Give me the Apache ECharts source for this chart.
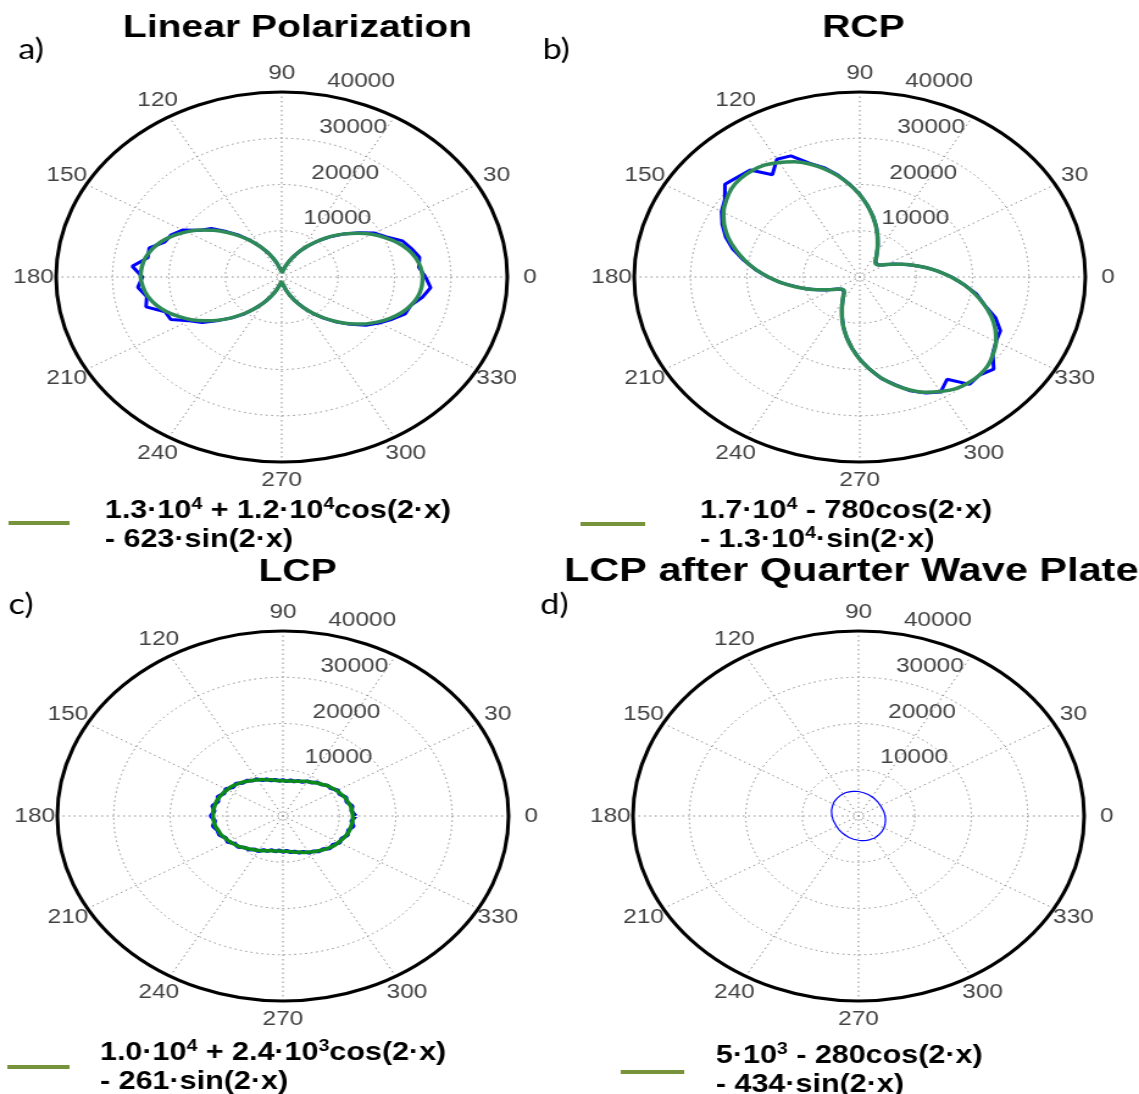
<!DOCTYPE html>
<html>
<head>
<meta charset="utf-8">
<script src="https://cdn.jsdelivr.net/npm/echarts@6/dist/echarts.min.js"></script>
<style>
  html, body { margin: 0; padding: 0; background: #fff; overflow: hidden; }
  /* the figure is laid out at its natural width, then widened to 1139px */
  #chart { width: 934px; height: 1094px; transform: scaleX(1.2195); transform-origin: 0 0; }
</style>
</head>
<body>
<div id="chart"></div>
<script>
// Sampling angles (degrees) shared by all measured and fitted curves
const angles = [0,5,10,15,20,25,30,35,40,45,50,55,60,65,70,75,80,85,90,95,100,105,110,115,120,125,130,135,140,145,150,155,160,165,170,175,180,185,190,195,200,205,210,215,220,225,230,235,240,245,250,255,260,265,270,275,280,285,290,295,300,305,310,315,320,325,330,335,340,345,350,355,360];

// Tick labels (the 60 degree label sits under the radius labels and is not printed)
const angleTicks = [0,30,90,120,150,180,210,240,270,300,330];
const radiusTicks = [10000,20000,30000,40000];

// a) Linear polarization: measured intensity and fit
const linearMeasured = [25500,24400,24800,23800,22800,20500,19000,16700,14500,12400,10300,8300,6500,4800,3400,2300,1500,1100,1000,1300,1900,2900,4200,5800,7600,9600,11800,13900,16300,17600,20300,21600,22100,24300,24100,26600,24700,25600,24300,24900,22000,21700,18900,17200,14600,12500,10500,8300,6500,4800,3400,2300,1500,1100,1000,1300,1900,2900,4200,5800,7600,9600,11600,13800,15900,18200,19900,21600,23300,23700,25300,26500,25500];
const linearFit = [25000,24700,24100,23100,21800,20200,18500,16500,14500,12400,10300,8300,6500,4800,3400,2300,1500,1100,1000,1300,1900,2900,4200,5800,7500,9500,11500,13600,15700,17700,19500,21200,22600,23700,24500,24900,25000,24700,24100,23100,21800,20200,18500,16500,14500,12400,10300,8300,6500,4800,3400,2300,1500,1100,1000,1300,1900,2900,4200,5800,7500,9500,11500,13600,15700,17700,19500,21200,22600,23700,24500,24900,25000];

// b) RCP
const rcpMeasured = [16300,14000,11900,9800,8000,6600,5300,4500,4100,4000,4300,5100,6100,7600,9300,11300,13400,15600,17900,20100,22400,24500,26200,28900,29400,27000,30200,30600,31200,29200,28300,26900,25300,23300,20900,18600,16300,14100,11700,9900,8000,6600,5300,4500,4100,4000,4300,5100,6100,7500,9200,11200,13300,15500,17800,20000,22300,24100,26200,27700,28700,27000,30300,30000,31000,28800,27900,27500,25600,22800,21000,18500,16300];
const rcpFit = [16200,14000,11800,9800,8000,6500,5400,4500,4100,4000,4300,5100,6100,7500,9200,11200,13300,15500,17800,20000,22200,24200,26000,27500,28600,29500,29900,30000,29700,28900,27900,26500,24800,22800,20700,18500,16200,14000,11800,9800,8000,6500,5400,4500,4100,4000,4300,5100,6100,7500,9200,11200,13300,15500,17800,20000,22200,24200,26000,27500,28600,29500,29900,30000,29700,28900,27900,26500,24800,22800,20700,18500,16200];

// c) LCP
const lcpMeasured = [12900,12200,12500,11700,11900,11100,11200,10400,10300,9600,9500,8800,8700,8100,8100,7700,7900,7500,7800,7600,8000,7900,8500,8500,9200,9300,10000,10100,10900,10800,11700,11500,12300,11900,12700,12200,12800,12100,12600,12000,12000,11200,11300,10400,10400,9600,9500,8800,8800,8100,8100,7600,7800,7400,7800,7500,8000,7900,8500,8500,9200,9300,10000,10100,10900,10800,11600,11500,12200,12000,12700,12200,12900];
const lcpFit = [12400,12300,12200,11900,11700,11300,11000,10600,10200,9700,9300,8900,8600,8300,8000,7800,7700,7600,7600,7700,7800,8100,8300,8700,9000,9400,9800,10300,10700,11100,11400,11700,12000,12200,12300,12400,12400,12300,12200,11900,11700,11300,11000,10600,10200,9700,9300,8900,8600,8300,8000,7800,7700,7600,7600,7700,7800,8100,8300,8700,9000,9400,9800,10300,10700,11100,11400,11700,12000,12200,12300,12400,12400];

// d) LCP after quarter wave plate
const qwpMeasured = [4700,4650,4600,4550,4500,4450,4500,4450,4550,4600,4650,4700,4800,4850,4950,5050,5100,5200,5300,5350,5400,5450,5500,5550,5500,5500,5450,5400,5350,5300,5250,5100,5050,4950,4850,4800,4700,4650,4600,4500,4500,4450,4500,4500,4550,4600,4650,4700,4750,4850,4950,5000,5100,5200,5250,5350,5400,5450,5500,5500,5550,5500,5450,5450,5350,5300,5200,5100,5000,4950,4850,4750,4700];

const FONT = '"Liberation Sans", Arial, sans-serif';
const TICK_COLOR = '#111';
const GRID_LINE = { color: '#8f8f8f', width: 1, type: [1.5, 3] };

const panels = [
  { center: [231, 277], title: 'Linear Polarization', titlePos: [244, 28], titleSize: 32, tag: 'a)', tagPos: [15, 50],
    measured: linearMeasured, fit: linearFit, fitColor: '#2e8b57', lineW: 3,
    legendLine: [7, 57, 523], legendText: [86, 497],
    legend: '{n|1.3·10}{s|4}{n| + 1.2·10}{s|4}{n|cos(2·x)}\n{n|- 623·sin(2·x)}' },
  { center: [705, 277], title: 'RCP', titlePos: [708, 28], titleSize: 32, tag: 'b)', tagPos: [445, 50],
    measured: rcpMeasured, fit: rcpFit, fitColor: '#2e8b57', lineW: 3,
    legendLine: [476, 529, 524], legendText: [574, 497],
    legend: '{n|1.7·10}{s|4}{n| - 780cos(2·x)}\n{n|- 1.3·10}{s|4}{n|·sin(2·x)}' },
  { center: [232, 816], title: 'LCP', titlePos: [244, 572], titleSize: 32, tag: 'c)', tagPos: [7, 605],
    measured: lcpMeasured, fit: lcpFit, fitColor: '#0b8a1a', lineW: 3.5,
    legendLine: [6, 57, 1067], legendText: [82, 1039],
    legend: '{n|1.0·10}{s|4}{n| + 2.4·10}{s|3}{n|cos(2·x)}\n{n|- 261·sin(2·x)}' },
  { center: [704, 816], title: 'LCP after Quarter Wave Plate', titlePos: [698, 572], titleSize: 34, tag: 'd)', tagPos: [443, 605],
    measured: qwpMeasured, fit: null, fitColor: null, lineW: 1.2,
    legendLine: [509, 561, 1072], legendText: [587, 1042],
    legend: '{n|5·10}{s|3}{n| - 280cos(2·x)}\n{n|- 434·sin(2·x)}' }
];

const RMAX = 40000;

const polar = panels.map(p => ({ center: p.center, radius: 185 }));

const angleAxis = panels.map((p, i) => ({
  polarIndex: i, type: 'value', min: 0, max: 360, interval: 30,
  startAngle: 0, clockwise: false,
  axisLine: { show: true, lineStyle: { color: '#000', width: 3 } },
  axisTick: { show: false },
  axisLabel: { show: false },
  splitLine: { show: true, lineStyle: GRID_LINE },
  z: 1
}));

const radiusAxis = panels.map((p, i) => ({
  polarIndex: i, type: 'value', min: 0, max: RMAX, interval: 10000,
  axisLine: { show: false }, axisTick: { show: false }, axisLabel: { show: false },
  splitLine: { show: true, lineStyle: GRID_LINE },
  z: 1
}));

const series = [];
panels.forEach((p, i) => {
  series.push({
    type: 'line', coordinateSystem: 'polar', polarIndex: i,
    data: angles.map((a, j) => [p.measured[j], a]),
    showSymbol: false, symbol: 'none',
    lineStyle: { color: '#0000ff', width: p.lineW },
    z: 3, silent: true
  });
  if (p.fit) {
    series.push({
      type: 'line', coordinateSystem: 'polar', polarIndex: i,
      data: angles.map((a, j) => [p.fit[j], a]),
      showSymbol: false, symbol: 'none', smooth: 0.3,
      lineStyle: { color: p.fitColor, width: 3.5 },
      z: 4, silent: true
    });
  }
  // angle tick labels, centred just outside the outer ring
  series.push({
    type: 'scatter', coordinateSystem: 'polar', polarIndex: i, clip: false,
    data: angleTicks.map(t => [RMAX * 1.1, t]),
    symbolSize: 1, itemStyle: { color: 'rgba(0,0,0,0)' }, silent: true,
    label: { show: true, position: 'inside', formatter: q => String(q.value[1]),
      color: TICK_COLOR, fontSize: 20, fontFamily: FONT, align: 'center', verticalAlign: 'middle' },
    z: 5
  });
  // radius tick labels along the 82 degree direction
  series.push({
    type: 'scatter', coordinateSystem: 'polar', polarIndex: i, clip: false,
    data: radiusTicks.map(t => [t + 500, 82, t]),
    symbolSize: 1, itemStyle: { color: 'rgba(0,0,0,0)' }, silent: true,
    label: { show: true, position: 'inside', formatter: q => '  ' + q.value[2],
      color: TICK_COLOR, fontSize: 20, fontFamily: FONT, align: 'left', verticalAlign: 'bottom' },
    z: 5
  });
});

const graphic = [];
panels.forEach(p => {
  graphic.push({
    type: 'text', x: p.titlePos[0], y: p.titlePos[1], silent: true,
    style: { text: p.title, font: 'bold ' + p.titleSize + 'px ' + FONT, fill: '#000', align: 'center', verticalAlign: 'middle' }
  });
  graphic.push({
    type: 'text', x: p.tagPos[0], y: p.tagPos[1], silent: true,
    style: { text: p.tag, font: '28px Lato, "Open Sans", sans-serif', fill: '#000', align: 'left', verticalAlign: 'middle' }
  });
  graphic.push({
    type: 'line', silent: true,
    shape: { x1: p.legendLine[0], y1: p.legendLine[2], x2: p.legendLine[1], y2: p.legendLine[2] },
    style: { stroke: '#77933c', lineWidth: 4 }
  });
  graphic.push({
    type: 'text', x: p.legendText[0], y: p.legendText[1], silent: true,
    style: {
      text: p.legend, align: 'left', verticalAlign: 'top',
      rich: {
        n: { fontSize: 25, fontWeight: 'bold', fontFamily: FONT, fill: '#000', lineHeight: 29 },
        s: { fontSize: 16, fontWeight: 'bold', fontFamily: FONT, fill: '#000', lineHeight: 16, verticalAlign: 'top' }
      }
    }
  });
});

const chart = echarts.init(document.getElementById('chart'), null, { renderer: 'canvas' });
chart.setOption({
  backgroundColor: '#fff',
  animation: false,
  polar, angleAxis, radiusAxis, series, graphic
});
</script>
</body>
</html>
